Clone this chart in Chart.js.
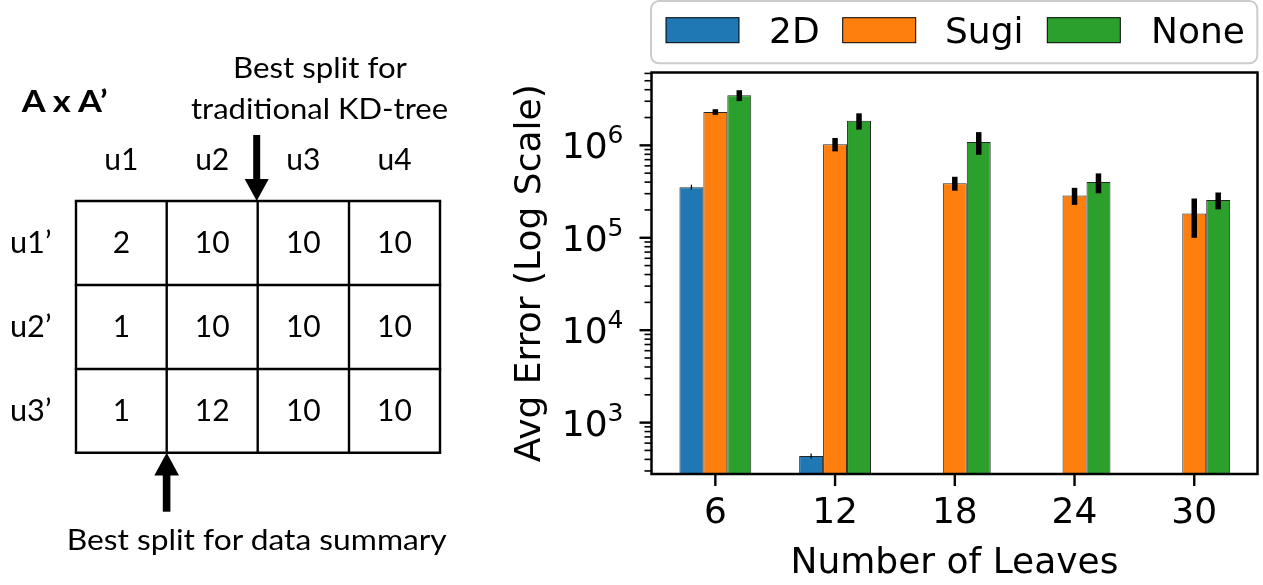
<!DOCTYPE html>
<html>
<head>
<meta charset="utf-8">
<script src="https://cdn.jsdelivr.net/npm/chart.js@4.4.0/dist/chart.umd.min.js"></script>
<style>
  html, body { margin: 0; padding: 0; background: #fff; }
  #wrap { position: relative; width: 1263px; height: 585px; overflow: hidden; }
  #chart { position: absolute; left: 470px; top: 0; }
  #overlay { position: absolute; left: 0; top: 0; pointer-events: none; }
</style>
</head>
<body>
<div id="wrap">
  <canvas id="chart" width="793" height="585"></canvas>
  <svg id="overlay" width="1263" height="585" xmlns="http://www.w3.org/2000/svg"></svg>
</div>
<script>
// chart data
const leaves = [6, 12, 18, 24, 30];
const seriesNames = ['2D', 'Sugi', 'None'];
const seriesColors = ['#1f77b4', '#ff7f0e', '#2ca02c'];
const avg2D   = [3.53e5, 436, null, null, null];
const avgSugi = [2.3e6, 1.03e6, 3.9e5, 2.87e5, 1.83e5];
const avgNone = [3.48e6, 1.85e6, 1.09e6, 4.0e5, 2.56e5];
const err2D   = [2.2e4, 27, null, null, null];
const errSugi = [1.6e5, 1.7e5, 6.7e4, 6e4, 8.3e4];
const errNone = [4.7e5, 3.7e5, 3.0e5, 9.7e4, 5.3e4];
const yMajor = [1e3, 1e4, 1e5, 1e6];

// left diagram data
const colLabels = ['u1', 'u2', 'u3', 'u4'];
const rowLabels = ['u1\u2019', 'u2\u2019', 'u3\u2019'];
const cellValues = [
  [2, 10, 10, 10],
  [1, 10, 10, 10],
  [1, 12, 10, 10]
];

Chart.defaults.font.family = "'DejaVu Sans'";
Chart.defaults.color = '#000';

const avgs = [avg2D, avgSugi, avgNone];
const errs = [err2D, errSugi, errNone];

const errorBars = {
  id: 'errorBars',
  afterDatasetsDraw(chart) {
    const ctx = chart.ctx, y = chart.scales.y;
    chart.data.datasets.forEach((ds, i) => {
      const meta = chart.getDatasetMeta(i);
      meta.data.forEach((bar, j) => {
        const v = ds.data[j].y, e = ds.errs[j];
        if (v == null || e == null) return;
        ctx.save();
        ctx.strokeStyle = '#000';
        ctx.lineWidth = ds.errWidth;
        ctx.beginPath();
        ctx.moveTo(bar.x, y.getPixelForValue(v - e));
        ctx.lineTo(bar.x, y.getPixelForValue(v + e));
        ctx.stroke();
        ctx.restore();
      });
    });
  }
};

// matplotlib-like spines, tick marks and 10^n labels
const axesFrame = {
  id: 'axesFrame',
  afterDraw(chart) {
    const ctx = chart.ctx, a = chart.chartArea;
    const x = chart.scales.x, y = chart.scales.y;
    ctx.save();
    ctx.strokeStyle = '#000';
    for (let e = 2; e <= 7; e++) {
      for (let m = 1; m <= 9; m++) {
        const v = m * Math.pow(10, e);
        if (v < y.min || v > y.max) continue;
        const py = y.getPixelForValue(v);
        const len = m === 1 ? 12 : 7;
        ctx.lineWidth = m === 1 ? 2.4 : 1.6;
        ctx.beginPath();
        ctx.moveTo(a.left - len, py);
        ctx.lineTo(a.left, py);
        ctx.stroke();
      }
    }
    ctx.lineWidth = 2.4;
    leaves.forEach(v => {
      const px = x.getPixelForValue(v);
      ctx.beginPath();
      ctx.moveTo(px, a.bottom);
      ctx.lineTo(px, a.bottom + 12);
      ctx.stroke();
    });
    ctx.lineWidth = 2.5;
    ctx.strokeRect(a.left, a.top, a.right - a.left, a.bottom - a.top);

    // y tick labels with a real superscript exponent
    ctx.fillStyle = '#000';
    ctx.textAlign = 'left';
    ctx.textBaseline = 'alphabetic';
    yMajor.forEach(v => {
      const py = y.getPixelForValue(v);
      const exp = String(Math.round(Math.log10(v)));
      ctx.font = "25px 'DejaVu Sans'";
      const ew = ctx.measureText(exp).width;
      ctx.font = "36px 'DejaVu Sans'";
      const bw = ctx.measureText('10').width;
      const right = a.left - 28;
      ctx.fillText('10', right - ew - bw, py + 13);
      ctx.font = "25px 'DejaVu Sans'";
      ctx.fillText(exp, right - ew, py - 2);
    });
    ctx.restore();
  }
};

new Chart(document.getElementById('chart'), {
  type: 'bar',
  data: {
    datasets: seriesNames.map((name, i) => ({
      label: name,
      data: leaves.map((l, j) => ({ x: l, y: avgs[i][j] })),
      errs: errs[i],
      errWidth: i === 0 ? 1.2 : 5.5,
      backgroundColor: seriesColors[i],
      borderColor: 'rgba(0,0,0,0.85)',
      borderWidth: 1,
      categoryPercentage: 0.6,
      barPercentage: 1.0
    }))
  },
  options: {
    responsive: false,
    animation: false,
    devicePixelRatio: 1,
    layout: { padding: { top: 72.5, right: 5.5, left: 0, bottom: 0 } },
    plugins: { legend: { display: false }, tooltip: { enabled: false } },
    scales: {
      x: {
        type: 'linear',
        min: 2.8,
        max: 33.17,
        offset: false,
        grid: { display: false, drawTicks: false },
        border: { display: false },
        afterBuildTicks: s => { s.ticks = leaves.map(v => ({ value: v })); },
        afterFit: s => { s.height = 111; },
        ticks: { font: { size: 36 }, padding: 18, autoSkip: false, maxRotation: 0 },
        title: { display: true, text: 'Number of Leaves', font: { size: 36 }, padding: { top: 0, bottom: 0 } }
      },
      y: {
        type: 'logarithmic',
        min: 278,
        max: 6.14e6,
        grid: { display: false, drawTicks: false },
        border: { display: false },
        afterBuildTicks: s => { s.ticks = yMajor.map(v => ({ value: v })); },
        afterFit: s => { s.width = 181.5; },
        ticks: { display: false },
        title: { display: true, text: 'Avg Error (Log Scale)', font: { size: 36 }, padding: { top: 39 } }
      }
    }
  },
  plugins: [errorBars, axesFrame]
});

// left diagram and legend drawn as svg
const NS = 'http://www.w3.org/2000/svg';
const svg = document.getElementById('overlay');
function el(tag, attrs, text) {
  const n = document.createElementNS(NS, tag);
  for (const k in attrs) n.setAttribute(k, attrs[k]);
  if (text != null) n.textContent = text;
  svg.appendChild(n);
  return n;
}
const diagFont = "Lato, 'Open Sans', sans-serif";
const gridX = [76, 166.7, 257.7, 349, 440];
const gridY = [201, 285, 369, 452.7];
const rowBase = [253, 337, 421];

gridX.forEach(x => el('line', { x1: x, y1: gridY[0], x2: x, y2: gridY[3], stroke: '#000', 'stroke-width': 2.4 }));
gridY.forEach(y => el('line', { x1: gridX[0] - 1.2, y1: y, x2: gridX[4] + 1.2, y2: y, stroke: '#000', 'stroke-width': 2.4 }));

colLabels.forEach((t, c) => el('text', { x: (gridX[c] + gridX[c + 1]) / 2, y: 170, 'text-anchor': 'middle', 'font-family': diagFont, 'font-size': 30 }, t));
rowLabels.forEach((t, r) => {
  el('text', { x: 10, y: rowBase[r], 'font-family': diagFont, 'font-size': 30, textLength: 41.5, lengthAdjust: 'spacingAndGlyphs' }, t);
  cellValues[r].forEach((v, c) => el('text', { x: (gridX[c] + gridX[c + 1]) / 2, y: rowBase[r], 'text-anchor': 'middle', 'font-family': diagFont, 'font-size': 30 }, String(v)));
});

el('text', { x: 21.7, y: 111.7, 'font-family': diagFont, 'font-size': 30, 'font-weight': 'bold', textLength: 86, lengthAdjust: 'spacingAndGlyphs' }, 'A x A\u2019');
el('text', { x: 233, y: 78.3, 'font-family': diagFont, 'font-size': 29, textLength: 174, lengthAdjust: 'spacingAndGlyphs' }, 'Best split for');
el('text', { x: 191, y: 119, 'font-family': diagFont, 'font-size': 29, textLength: 257, lengthAdjust: 'spacingAndGlyphs' }, 'traditional KD-tree');
el('text', { x: 66.7, y: 550, 'font-family': diagFont, 'font-size': 29, textLength: 380, lengthAdjust: 'spacingAndGlyphs' }, 'Best split for data summary');

// arrows
el('rect', { x: 253.2, y: 135, width: 7, height: 46, fill: '#000' });
el('polygon', { points: '244.7,179 268.7,179 256.7,201', fill: '#000' });
el('rect', { x: 162.8, y: 474, width: 7.6, height: 37.7, fill: '#000' });
el('polygon', { points: '154.3,475.5 179,475.5 166.7,452.7', fill: '#000' });

// legend
el('rect', { x: 651, y: 1, width: 606.3, height: 62.3, rx: 8, fill: '#fff', stroke: '#cccccc', 'stroke-width': 2 });
const swX = [666, 842.7, 1047.3];
const txX = [769, 945, 1151];
seriesNames.forEach((name, i) => {
  el('rect', { x: swX[i], y: 17.7, width: 73, height: 25, fill: seriesColors[i], stroke: '#000', 'stroke-width': 1 });
  el('text', { x: txX[i], y: 42.7, 'font-family': "'DejaVu Sans'", 'font-size': 36 }, name);
});
</script>
</body>
</html>
